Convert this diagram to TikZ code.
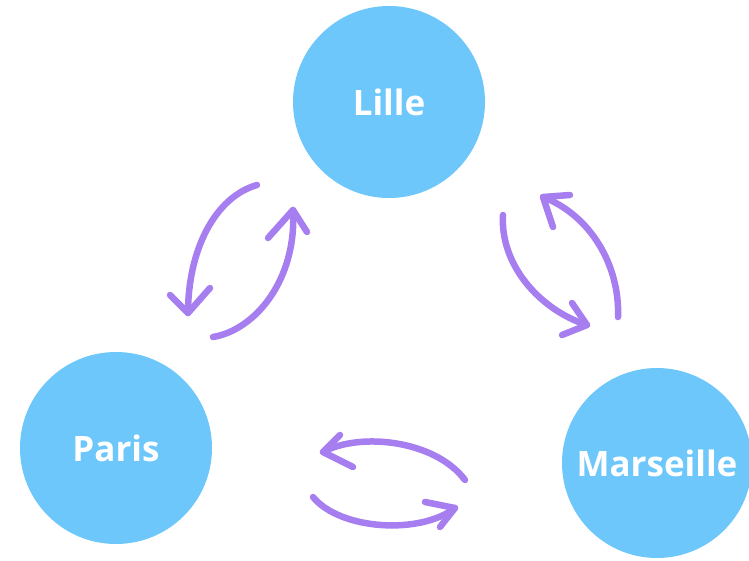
\documentclass[tikz,border=0pt]{standalone}
\usepackage{fontspec}
\setmainfont{Open Sans}
\definecolor{cityblue}{RGB}{110,199,250}
\definecolor{arrowpurple}{RGB}{166,126,240}
\begin{document}
\begin{tikzpicture}[x=1pt,y=-1pt,
  city/.style={circle,fill=cityblue,minimum size=192pt,inner sep=0pt,text=white,font=\fontsize{35}{35}\selectfont\bfseries},
  arr/.style={draw=arrowpurple,line width=6.5pt,line cap=round,line join=round}]
\useasboundingbox (0,0) rectangle (749,560);
\node[city] (lille) at (389,102) {Lille};
\node[city] (paris) at (116,448) {Paris};
\node[city,minimum size=190pt] (marseille) at (657,463) {Marseille};
% arrow A: towards Paris
\coordinate (aS) at (257,185); \coordinate (aT) at (188,313);
\coordinate (aL) at (170,295); \coordinate (aR) at (210,288);
\draw[arr] (aS) .. controls (215,197) and (188,250) .. (aT);
\draw[arr] (aL) -- (aT) -- (aR);
% arrow B: towards Lille
\coordinate (bS) at (213,337); \coordinate (bT) at (293,210);
\coordinate (bL) at (268,238); \coordinate (bR) at (307,232);
\draw[arr] (bS) .. controls (255,330) and (297,280) .. (bT);
\draw[arr] (bL) -- (bT) -- (bR);
% arrow C: towards Marseille
\coordinate (cS) at (503,215); \coordinate (cT) at (587,325);
\coordinate (cL) at (572,303); \coordinate (cR) at (562,335);
\draw[arr] (cS) .. controls (500,265) and (540,310) .. (cT);
\draw[arr] (cL) -- (cT) -- (cR);
% arrow D: towards Lille
\coordinate (dS) at (618,317); \coordinate (dT) at (543,197);
\coordinate (dL) at (570,195); \coordinate (dR) at (553,227);
\draw[arr] (dS) .. controls (620,265) and (590,215) .. (dT);
\draw[arr] (dL) -- (dT) -- (dR);
% arrow E: towards Paris
\coordinate (eS) at (465,480); \coordinate (eT) at (323,452);
\coordinate (eL) at (340,435); \coordinate (eR) at (353,467);
\draw[arr] (eS) .. controls (435,440) and (360,432) .. (eT);
\draw[arr] (eL) -- (eT) -- (eR);
% arrow F: towards Marseille
\coordinate (fS) at (313,497); \coordinate (fT) at (455,508);
\coordinate (fL) at (425,502); \coordinate (fR) at (440,527);
\draw[arr] (fS) .. controls (340,530) and (420,535) .. (fT);
\draw[arr] (fL) -- (fT) -- (fR);
\end{tikzpicture}
\end{document}
